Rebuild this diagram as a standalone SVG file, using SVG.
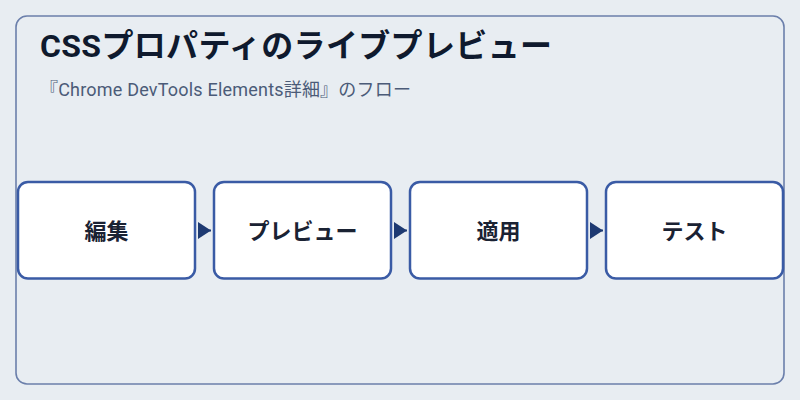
<svg xmlns="http://www.w3.org/2000/svg" width="800" height="400" viewBox="0 0 800 400">
  <style>
    .title { font-family: Roboto, "Noto Sans CJK JP", sans-serif; font-size: 32px; font-weight: 700; fill: #0f1a2e; letter-spacing: 0.35px; }
    .sub { font-family: Roboto, "Noto Sans CJK JP", sans-serif; font-size: 18px; font-weight: 400; fill: #4b5b78; letter-spacing: 0.2px; }
    .box { fill: #ffffff; stroke: #3a5ba5; stroke-width: 2.5; }
    .label { font-family: Roboto, "Noto Sans CJK JP", sans-serif; font-size: 22px; font-weight: 700; fill: #1a2233; text-anchor: middle; }
    .conn { stroke: #1e3a72; stroke-width: 2; fill: none; }
  </style>
  <defs>
    <marker id="arrow" viewBox="0 0 13 17" refX="13" refY="8.5" markerWidth="13" markerHeight="17" markerUnits="userSpaceOnUse" orient="auto">
      <path d="M0,0 L13,8.5 L0,17 Z" fill="#1e3a72"/>
    </marker>
  </defs>
  <rect x="0" y="0" width="800" height="400" fill="#e8edf2"/>
  <rect id="frame" x="16" y="16" width="768" height="368" rx="11" fill="#e8edf2" stroke="#6b7fab" stroke-width="1.6"/>
  <text class="title" x="40" y="57">CSSプロパティのライブプレビュー</text>
  <text class="sub" x="40" y="96">『Chrome DevTools Elements詳細』のフロー</text>
  <g id="connectors">
    <path class="conn" d="M199,230.5 L211,230.5" marker-end="url(#arrow)"/>
    <path class="conn" d="M395,230.5 L407,230.5" marker-end="url(#arrow)"/>
    <path class="conn" d="M591,230.5 L603,230.5" marker-end="url(#arrow)"/>
  </g>
  <g id="node-edit">
    <rect class="box" x="18" y="182" width="177" height="96.5" rx="10"/>
    <text class="label" x="106.5" y="238.5">編集</text>
  </g>
  <g id="node-preview">
    <rect class="box" x="214" y="182" width="177" height="96.5" rx="10"/>
    <text class="label" x="302.5" y="238.5">プレビュー</text>
  </g>
  <g id="node-apply">
    <rect class="box" x="410" y="182" width="177" height="96.5" rx="10"/>
    <text class="label" x="498.5" y="238.5">適用</text>
  </g>
  <g id="node-test">
    <rect class="box" x="606" y="182" width="177" height="96.5" rx="10"/>
    <text class="label" x="694.5" y="238.5">テスト</text>
  </g>
</svg>
